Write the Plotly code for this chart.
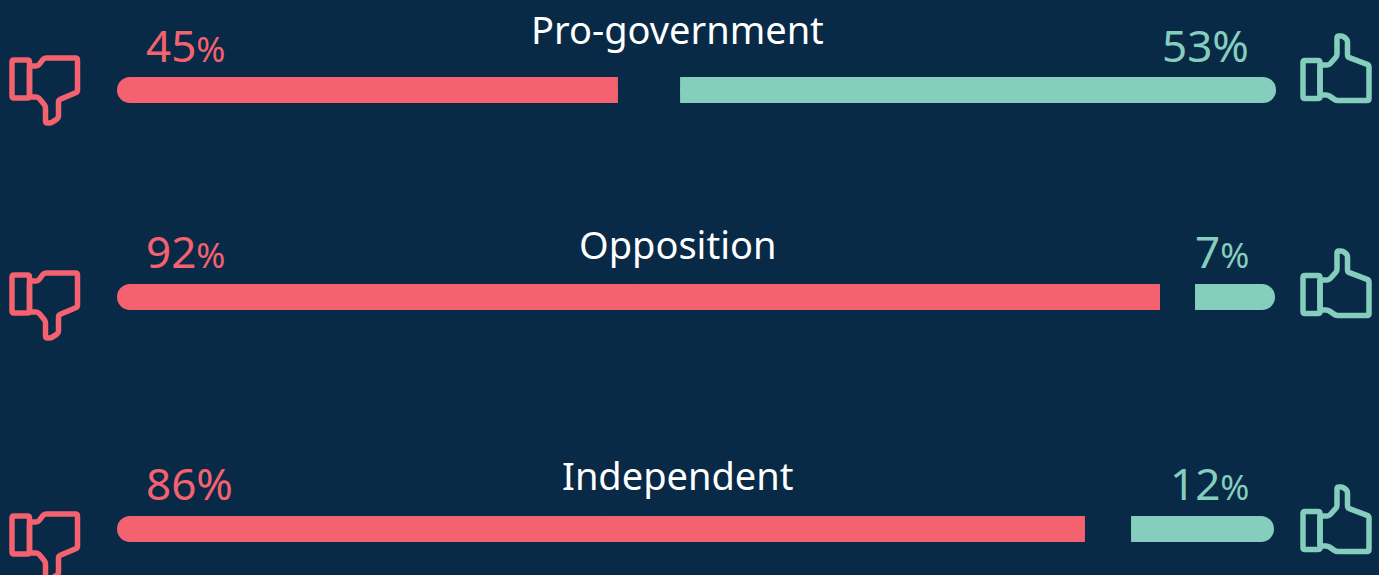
import plotly.graph_objects as go

W, H = 1379, 575
BG, RED, TEAL, WHITE = "#082A47", "#F4616F", "#85CEBD", "#FFFFFF"
FONT = "Noto Sans"

groups = ["Pro-government", "Opposition", "Independent"]
against_pct = [45, 92, 86]
in_favour_pct = [53, 7, 12]
# Bar lengths as drawn (on the picture's own scale, slightly off the printed numbers)
against_len = [44.33, 92.3, 85.66]
in_favour_len = [52.74, 7.08, 12.65]
in_favour_end = [102.57, 102.48, 102.39]
small_against_sign = [True, True, False]
small_favour_sign = [False, True, True]

# layout constants
PX = 11.3
X0 = 117
ROW_Y = [90, 297, 529]
BAR_H = 26
LABEL_Y = [45, 251, 483]
TITLE_Y = [29, 244, 475]
ICON_DY_DOWN = [0, 215, 456]
ICON_DY_UP = [0, 215, 451]

def fx(px): return px / W
def fy(py): return 1 - py / H

def path(points, r=2.0):
    n = len(points)
    segs = []
    for i, (x, y) in enumerate(points):
        px_, py_ = points[i - 1]
        nx, ny = points[(i + 1) % n]
        d1 = max(((x - px_) ** 2 + (y - py_) ** 2) ** .5, 1e-6)
        d2 = max(((x - nx) ** 2 + (y - ny) ** 2) ** .5, 1e-6)
        a = (x + (px_ - x) * min(r, d1 / 2) / d1, y + (py_ - y) * min(r, d1 / 2) / d1)
        b = (x + (nx - x) * min(r, d2 / 2) / d2, y + (ny - y) * min(r, d2 / 2) / d2)
        segs.append(f"{'M' if i == 0 else 'L'} {fx(a[0]):.5f} {fy(a[1]):.5f} Q {fx(x):.5f} {fy(y):.5f} {fx(b[0]):.5f} {fy(b[1]):.5f}")
    return " ".join(segs) + " Z"

DOWN_CUFF = [(12, 60), (29.5, 60), (29.5, 98), (12, 98)]
DOWN_HAND = [(29.5, 66), (38, 66), (44, 58), (77.5, 58), (77.5, 92), (58.5, 100), (58.5, 118),
             (51, 123), (45.5, 123), (45.5, 106), (38, 97), (29.5, 97)]
UP_CUFF = [(1303, 60.5), (1320, 60.5), (1320, 98.5), (1303, 98.5)]
UP_HAND = [(1320, 65), (1329, 65), (1337, 56), (1337, 36), (1343, 36), (1347.5, 40), (1347.5, 57),
           (1369, 65), (1369, 100.5), (1336, 100.5), (1328, 95), (1320, 95)]

shapes = []
for dd, du in zip(ICON_DY_DOWN, ICON_DY_UP):
    for pts, col, dy in ((DOWN_CUFF, RED, dd), (DOWN_HAND, RED, dd), (UP_CUFF, TEAL, du), (UP_HAND, TEAL, du)):
        shapes.append(dict(type="path", xref="paper", yref="paper",
                           path=path([(x, y + dy) for x, y in pts]),
                           line=dict(color=col, width=5.5), fillcolor="rgba(0,0,0,0)"))

def label(v, small):
    return f'{v}<span style="font-size:35px">%</span>' if small else f"{v}%"

annotations = []
for i, g in enumerate(groups):
    annotations.append(dict(x=fx(677), y=fy(TITLE_Y[i]), xref="paper", yref="paper", text=g, showarrow=False,
                            xanchor="center", yanchor="middle", font=dict(family=FONT, size=38, color=WHITE)))
    annotations.append(dict(x=fx(144), y=fy(LABEL_Y[i]), xref="paper", yref="paper",
                            text=label(against_pct[i], small_against_sign[i]), showarrow=False,
                            xanchor="left", yanchor="middle", font=dict(family=FONT, size=44, weight=400, color=RED)))
    annotations.append(dict(x=fx(1251), y=fy(LABEL_Y[i]), xref="paper", yref="paper",
                            text=label(in_favour_pct[i], small_favour_sign[i]), showarrow=False,
                            xanchor="right", yanchor="middle", font=dict(family=FONT, size=44, weight=400, color=TEAL)))

def bar(y, start, length, colour, radius):
    """Horizontal bar from `start`, extending by signed `length`."""
    return go.Bar(orientation="h", y=y, base=start, x=length, width=BAR_H, hoverinfo="skip",
                  marker=dict(color=colour, line_width=0, cornerradius=radius))

favour_start = [e - v for e, v in zip(in_favour_end, in_favour_len)]

fig = go.Figure()
# each bar: a fully rounded body, then a square-cornered half over its inner end
fig.add_trace(bar(ROW_Y, [0] * 3, against_len, RED, BAR_H / 2))
fig.add_trace(bar(ROW_Y, [v / 2 for v in against_len], [v / 2 for v in against_len], RED, 0))
fig.add_trace(bar(ROW_Y, favour_start, in_favour_len, TEAL, BAR_H / 2))
fig.add_trace(bar(ROW_Y, favour_start, [v / 2 for v in in_favour_len], TEAL, 0))

fig.update_layout(width=W, height=H, autosize=False, margin=dict(l=0, r=0, t=0, b=0),
                  paper_bgcolor=BG, plot_bgcolor=BG, showlegend=False, barmode="overlay",
                  shapes=shapes, annotations=annotations,
                  xaxis=dict(range=[-X0 / PX, (W - X0) / PX], visible=False, fixedrange=True),
                  yaxis=dict(range=[H, 0], visible=False, fixedrange=True))
fig.write_html("out.html", config=dict(displayModeBar=False),
               post_script="document.body.style.margin='0';document.body.style.background='%s';" % BG)
